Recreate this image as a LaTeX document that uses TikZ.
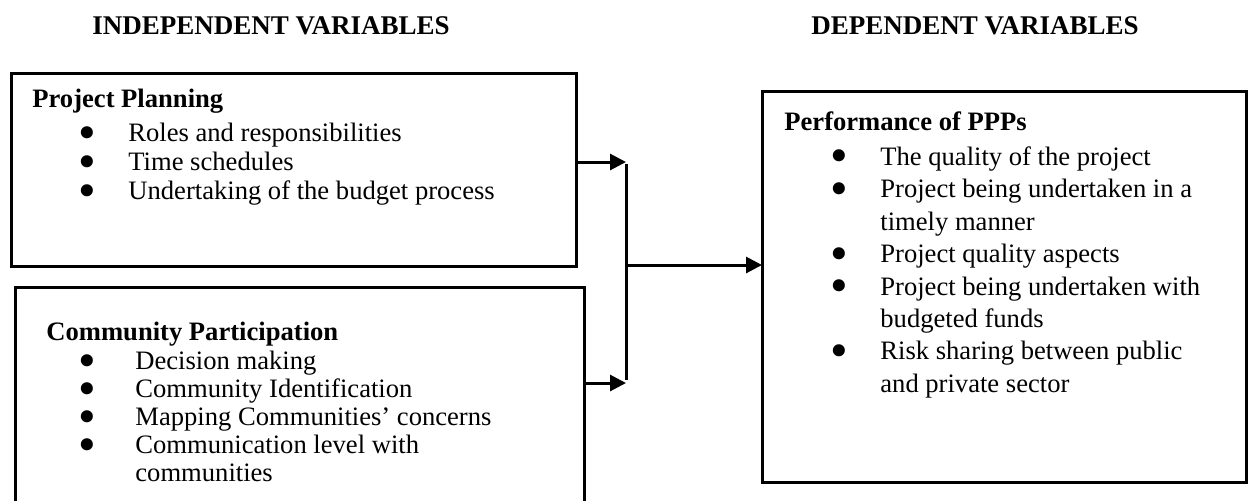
\documentclass[tikz,border=0pt]{standalone}
\usepackage{fontspec}
\setmainfont{Liberation Serif}
\usetikzlibrary{arrows.meta, positioning, calc}

% bullet line and continuation line inside the boxes
\newcommand{\bul}{\smash{\raisebox{-0.28em}{\scalebox{1.9}{\textbullet}}}}
\newcommand{\itm}[2][25pt]{\hspace*{23pt}\makebox[#1][l]{\bul}#2}
\newcommand{\cnt}[1]{\hspace*{48pt}#1}

\begin{document}
\begin{tikzpicture}[
        x=0.5pt, y=-0.5pt,
        box/.style = {draw, line width=1.5pt, rectangle, inner sep=0pt, outer sep=0pt, anchor=north west},
        txt/.style = {anchor=north west, inner sep=0pt, align=left, font=\fontsize{13.3}{14.5}\selectfont},
        head/.style = {font=\fontsize{13.5}{15}\selectfont\bfseries},
        edge/.style = {-{Triangle[length=8pt, width=8pt]}, line width=1.5pt},
        busline/.style = {line width=1.5pt}
    ]
    \useasboundingbox (0,0) rectangle (1249,500);

    % column headings
    \node[head] (indep) at (271,26) {INDEPENDENT VARIABLES};
    \node[head] (dep) at (975,26) {DEPENDENT VARIABLES};

    % boxes
    \node[box, minimum width=282.5pt, minimum height=96.5pt] (plan) at (11,73) {};
    \node[box, minimum width=284.5pt, minimum height=115pt] (comm) at (15,287) {};
    \node[box, minimum width=242pt, minimum height=195.5pt] (perf) at (762,91) {};

    % box contents
    \node[txt] (plantxt) at (32,89) {\textbf{Project Planning}\\[2.5pt]
        \itm{Roles and responsibilities}\\
        \itm{Time schedules}\\
        \itm{Undertaking of the budget process}};
    \node[txt, font=\fontsize{13.3}{14}\selectfont] (commtxt) at (32,322) {\hspace*{7pt}\textbf{Community Participation}\\[0.5pt]
        \itm[28.5pt]{Decision making}\\
        \itm[28.5pt]{Community Identification}\\
        \itm[28.5pt]{Mapping Communities' concerns}\\
        \itm[28.5pt]{Communication level with}\\
        \cnt{\hspace*{3.5pt}communities}};
    \node[txt, font=\fontsize{13.3}{16.2}\selectfont] (perftxt) at (784,111) {\textbf{Performance of PPPs}\\[1.5pt]
        \itm{The quality of the project}\\
        \itm{Project being undertaken in a}\\
        \cnt{timely manner}\\
        \itm{Project quality aspects}\\
        \itm{Project being undertaken with}\\
        \cnt{budgeted funds}\\
        \itm{Risk sharing between public}\\
        \cnt{and private sector}};

    % connectors
    \coordinate (j1) at (626,162);
    \coordinate (j2) at (626,383);
    \coordinate (jm) at (626,265);
    \draw[edge] (plan.east |- j1) -- (j1);
    \draw[edge] (comm.east |- j2) -- (j2);
    \draw[busline] ($(j1)+(0,2)$) -- ($(j2)+(0,-3)$);
    \draw[edge] (jm) -- (perf.west |- jm);
\end{tikzpicture}
\end{document}
